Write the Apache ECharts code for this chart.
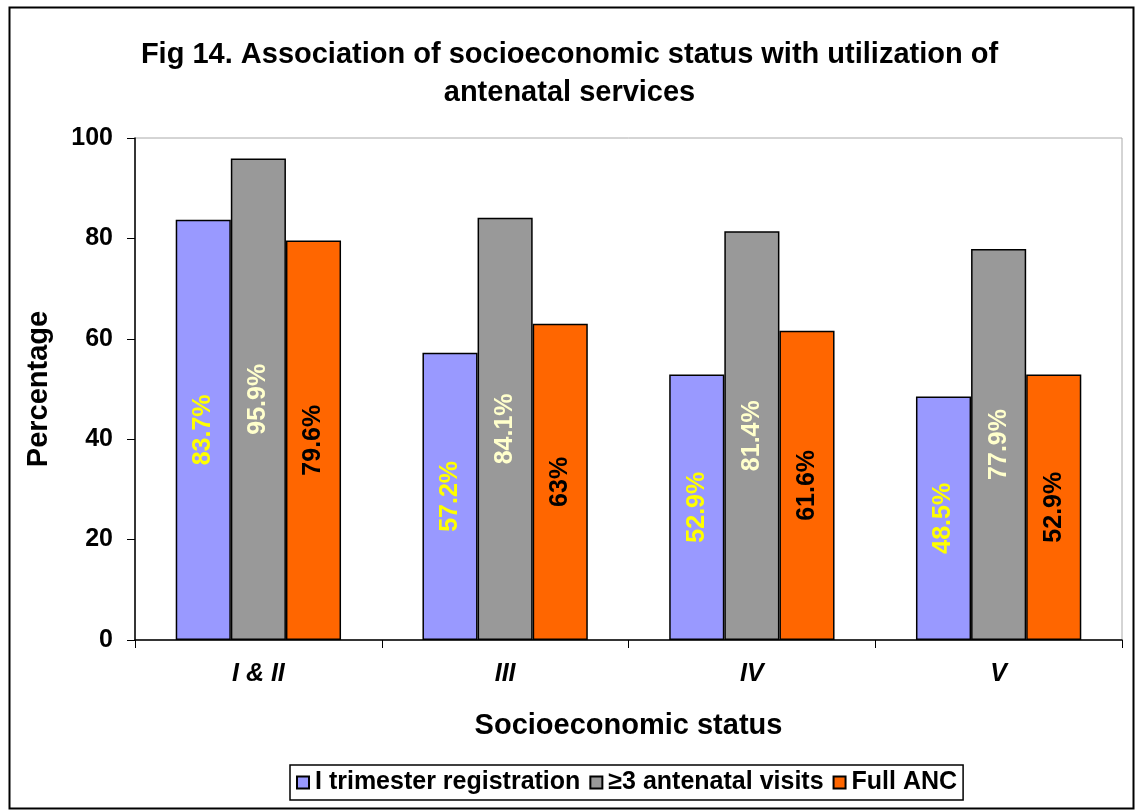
<!DOCTYPE html>
<html>
<head>
<meta charset="utf-8">
<script src="https://cdn.jsdelivr.net/npm/echarts@6/dist/echarts.min.js"></script>
<style>
  html, body { margin: 0; padding: 0; background: #fff; }
  #main { width: 1139px; height: 810px; }
</style>
</head>
<body>
<div id="main"></div>
<script>
// data
const categories = ['I & II', 'III', 'IV', 'V'];
const firstTrimester = [83.7, 57.2, 52.9, 48.5];
const antenatalVisits = [95.9, 84.1, 81.4, 77.9];
const fullANC = [79.6, 63, 61.6, 52.9];
const seriesNames = ['I trimester registration', '\u22653 antenatal visits', 'Full ANC'];

const font = 'Liberation Sans, Arial, sans-serif';

let myChart = echarts.init(document.getElementById('main'));

function makeSeries(name, data, color, labelColor) {
  return {
    name: name,
    type: 'bar',
    data: data,
    barGap: '0%',
    barCategoryGap: '33%',
    itemStyle: { color: color, borderColor: '#000', borderWidth: 1.5 },
    label: {
      show: true,
      position: 'inside',
      rotate: 90,
      color: labelColor,
      fontFamily: font,
      fontWeight: 'bold',
      fontSize: 25,
      formatter: function (p) { return p.value + '%'; }
    }
  };
}

myChart.setOption({
  animation: false,
  backgroundColor: '#fff',
  title: {
    text: 'Fig 14. Association of socioeconomic status with utilization of\nantenatal services',
    left: 'center',
    top: 31,
    textStyle: { fontFamily: font, fontWeight: 'bold', fontSize: 29, lineHeight: 38, color: '#000' }
  },
  legend: {
    bottom: 10,
    left: 290,
    itemWidth: 12,
    itemHeight: 12,
    itemGap: 9,
    borderColor: '#000',
    borderWidth: 1.5,
    padding: [5, 6, 5, 6],
    textStyle: { fontFamily: font, fontWeight: 'bold', fontSize: 25, color: '#000', padding: [0, 0, 0, 1] },
    icon: 'rect',
    data: seriesNames
  },
  grid: {
    left: 135,
    right: 17,
    top: 138,
    bottom: 170,
    show: true,
    borderColor: '#aaa',
    borderWidth: 1
  },
  xAxis: {
    type: 'category',
    data: categories,
    name: 'Socioeconomic status',
    nameLocation: 'middle',
    nameGap: 71,
    nameTextStyle: { fontFamily: font, fontWeight: 'bold', fontSize: 29, color: '#000' },
    axisLine: { lineStyle: { color: '#000', width: 1.5 } },
    axisTick: { show: true, length: 8, lineStyle: { color: '#000' } },
    axisLabel: { fontFamily: font, fontWeight: 'bold', fontStyle: 'italic', fontSize: 25, color: '#000', margin: 22 }
  },
  yAxis: {
    type: 'value',
    min: 0,
    max: 100,
    interval: 20,
    name: 'Percentage',
    nameLocation: 'middle',
    nameGap: 82,
    nameTextStyle: { fontFamily: font, fontWeight: 'bold', fontSize: 29, color: '#000' },
    axisLine: { show: true, lineStyle: { color: '#000', width: 1.5 } },
    axisTick: { show: true, length: 8, lineStyle: { color: '#000' } },
    splitLine: { show: false },
    axisLabel: { fontFamily: font, fontWeight: 'bold', fontSize: 25, color: '#000', margin: 22 }
  },
  series: [
    makeSeries(seriesNames[0], firstTrimester, '#9999FF', '#FFFF00'),
    makeSeries(seriesNames[1], antenatalVisits, '#999999', '#FFFFCC'),
    makeSeries(seriesNames[2], fullANC, '#FF6600', '#000000')
  ],
  graphic: [{
    type: 'rect',
    left: 7,
    top: 5,
    shape: { width: 1124, height: 801 },
    style: { fill: null, stroke: '#000', lineWidth: 2 },
    silent: true
  }]
});
</script>
</body>
</html>
